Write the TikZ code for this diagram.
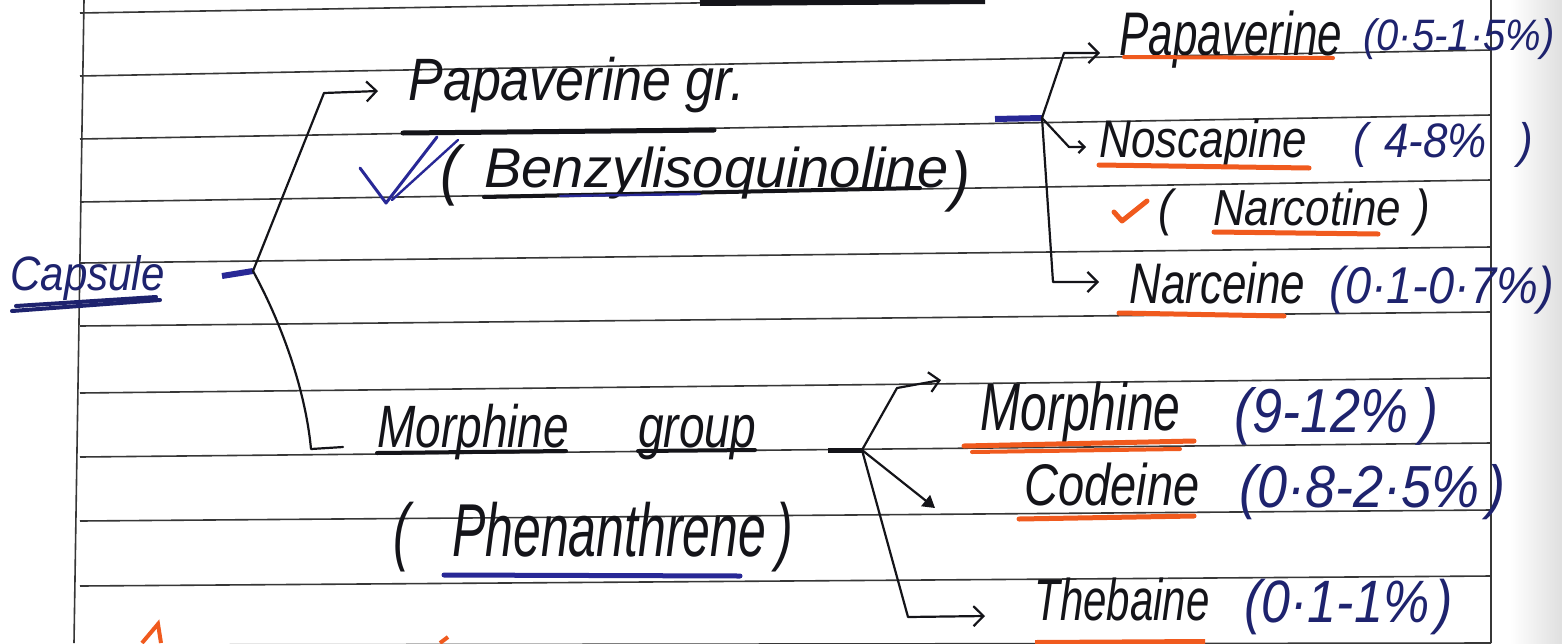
\documentclass[tikz,border=0pt]{standalone}
\usepackage{fontspec}
\setmainfont{Liberation Sans}
\usetikzlibrary{arrows.meta}
\definecolor{ink}{RGB}{20,20,25}
\definecolor{inkblue}{RGB}{30,35,110}
\definecolor{penblue}{RGB}{40,40,150}
\definecolor{hl}{RGB}{240,90,30}
\definecolor{rulecol}{RGB}{55,55,55}
\newcommand{\vstretch}[2]{\scalebox{1}[#1]{#2}}
\tikzset{
  hw/.style={inner sep=0pt, anchor=base west},
  fs/.style={font=\itshape\fontsize{#1}{#1}\selectfont},
  blk/.style={hw, text=ink},
  blu/.style={hw, text=inkblue},
  ruling/.style={draw=rulecol, line width=0.8pt},
  conn/.style={draw=ink, line width=1.1pt, line cap=round, line join=round},
  tipd/.style={-{Straight Barb[length=5pt,width=10pt]}},
  tips/.style={-{Straight Barb[length=3pt,width=6pt]}},
  ul/.style={line width=2pt, line cap=round},
}
\begin{document}
\begin{tikzpicture}[x=0.5pt,y=-0.5pt]
\useasboundingbox (0,0) rectangle (1562,643);
\fill[white] (0,0) rectangle (1562,643);
\clip (0,0) rectangle (1562,643);
\shade[left color=white, right color=gray!25] (1510,0) rectangle (1562,643);
% ruled paper
\foreach \a/\b in {13/-10, 76/50, 139/115, 202/180, 263/247, 326/312, 393/378, 457/443, 521/510, 586/576, 645/643}
  \draw[ruling] (80,\a) -- (1491,\b);
\draw[ruling] (84,0) -- (74,643);
\draw[ruling] (1491,0) -- (1491,643);
\draw[ink, line width=3pt] (700,3) -- (985,1);

% texts
\node[blu, fs=21] (capsule) at (10,290) {\vstretch{1.15}{Capsule}};
\node[blk, fs=26] (papgr) at (408,100) {\vstretch{1.15}{Papaverine gr.}};
\node[blk, fs=30] (lp1) at (440,192) {\vstretch{1.1}{(}};
\node[blk, fs=28] (benzyl) at (484,187) {Benzylisoquinoline};
\node[blk, fs=30] (rp1) at (950,198) {\vstretch{1.1}{)}};
\node[blk, fs=22] (pap) at (1119,55) {\vstretch{1.4}{Papaverine}};
\node[blu, fs=20] (pappct) at (1363,50) {\vstretch{1.1}{(0·5-1·5\%)}};
\node[blk, fs=22] (nos) at (1099,157) {\vstretch{1.2}{Noscapine}};
\node[blu, fs=22] (nospct) at (1353,157) {\vstretch{1.1}{(\hspace{8pt}4-8\%\hspace{16pt})}};
\node[blk, fs=22] (narcot) at (1158,225) {\vstretch{1.15}{(\hspace{20pt}Narcotine\hspace{7pt})}};
\node[blk, fs=22] (narce) at (1129,303) {\vstretch{1.3}{Narceine}};
\node[blu, fs=23.5] (narcepct) at (1329,303) {\vstretch{1.1}{(0·1-0·7\%)}};
\node[blk, fs=23] (morgrp) at (377,447) {\vstretch{1.3}{Morphine\hspace{1.5em}group}};
\node[blk, fs=25] (phen) at (393,556) {\vstretch{1.5}{(\hspace{21pt}Phenanthrene\hspace{5pt})}};
\node[blk, fs=24] (mor) at (980,430) {\vstretch{1.4}{Morphine}};
\node[blu, fs=27] (morpct) at (1234,432) {\vstretch{1.15}{(9-12\%\hspace{6pt})}};
\node[blk, fs=23.5] (cod) at (1024,505) {\vstretch{1.25}{Codeine}};
\node[blu, fs=27] (codpct) at (1239,507) {\vstretch{1.1}{(0·8-2·5\%\hspace{4pt})}};
\node[blk, fs=21] (theb) at (1034,620) {\vstretch{1.4}{Thebaine}};
\node[blu, fs=26] (thebpct) at (1244,622) {\vstretch{1.15}{(0·1-1\%\hspace{3pt})}};

% underlines
\draw[ul, inkblue] (12,311) -- (160,300);
\draw[ul, inkblue] (16,306) -- (156,297);
\draw[ul, ink, line width=2.5pt] (403,133) -- (714,130);
\draw[ul, ink] (484,197) -- (920,188);
\draw[ul, penblue, line width=1.2pt] (560,196) -- (700,194);
\draw[ul, hl] (1124,57) -- (1333,58);
\draw[ul, hl, line width=2.5pt] (1099,165) -- (1309,168);
\draw[ul, hl, line width=2.5pt] (1214,232) -- (1378,234);
\draw[ul, hl, line width=2.5pt] (1119,313) -- (1284,316);
\draw[ul, ink] (377,453) -- (566,451);
\draw[ul, ink] (638,451) -- (755,450);
\draw[ul, penblue, line width=2.5pt] (444,575) -- (740,576);
\draw[ul, hl, line width=2.5pt] (964,446) -- (1194,441);
\draw[ul, hl] (972,452) -- (1180,449);
\draw[ul, hl, line width=2.5pt] (1019,519) -- (1194,516);

% check marks and stray marks
\draw[penblue, line width=1.5pt, line join=round, line cap=round] (360,168) -- (386,203) -- (437,137);
\draw[penblue, line width=1.2pt, line cap=round] (392,200) -- (458,140);
\draw[hl, line width=2.5pt, line cap=round, line join=round] (1114,212) -- (1122,221) -- (1147,201);
\draw[hl, line width=2pt] (142,643) -- (158,624) -- (161,643);
\draw[hl, line width=2pt] (440,643) -- (448,637);
\draw[hl, line width=3pt] (1035,643) -- (1205,642);

% bracket 1
\coordinate (d1s) at (222,276);
\coordinate (b1) at (253,271);
\coordinate (k1) at (324,93);
\coordinate (a1) at (378,91);
\coordinate (k2) at (311,449);
\coordinate (e2) at (343,447);
\draw[penblue, line width=3pt] (d1s) -- (b1);
\draw[conn, tipd] (b1) -- (k1) -- (a1);
\draw[conn] (b1) .. controls (285,330) and (306,395) .. (k2) -- (e2);

% bracket 2
\coordinate (d2s) at (995,119);
\coordinate (b2) at (1042,118);
\coordinate (k3) at (1064,53);
\coordinate (a3) at (1100,53);
\coordinate (k4) at (1069,147);
\coordinate (a4) at (1086,147);
\coordinate (k5) at (1053,282);
\coordinate (a5) at (1099,282);
\draw[penblue, line width=3pt] (d2s) -- (b2);
\draw[conn, tipd] (b2) -- (k3) -- (a3);
\draw[conn, tips] (b2) -- (k4) -- (a4);
\draw[conn, tipd] (b2) -- (k5) -- (a5);

% bracket 3
\coordinate (d3s) at (828,450);
\coordinate (b3) at (862,450);
\coordinate (k6) at (897,388);
\coordinate (a6) at (941,380);
\coordinate (a7) at (935,508);
\coordinate (k8) at (908,617);
\coordinate (a8) at (985,616);
\draw[ink, line width=2.5pt] (d3s) -- (b3);
\draw[conn, tipd] (b3) -- (k6) -- (a6);
\draw[conn, -{Triangle[length=6pt,width=7pt]}] (b3) -- (a7);
\draw[conn, tipd] (b3) -- (k8) -- (a8);
\end{tikzpicture}
\end{document}
